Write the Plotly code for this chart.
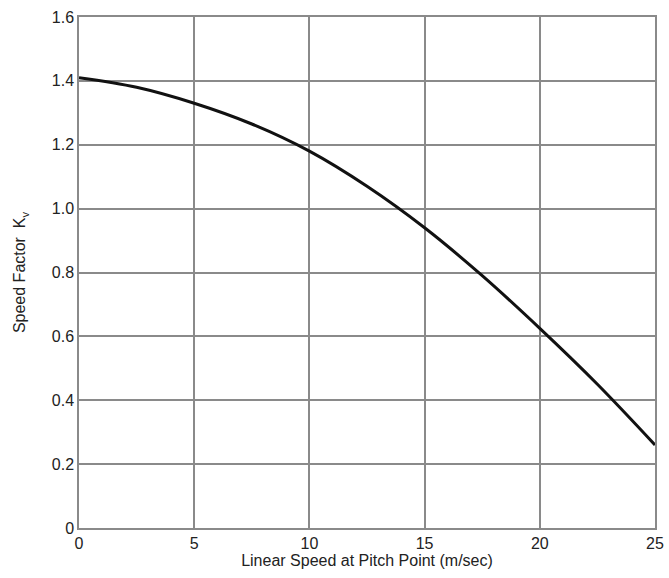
import plotly.graph_objects as go

speed = [0, 2.5, 5, 7.5, 10, 12.5, 15, 17.5, 20, 22.5, 25]
kv = [1.41, 1.38, 1.33, 1.265, 1.18, 1.07, 0.94, 0.79, 0.625, 0.45, 0.26]
x_ticks = [0, 5, 10, 15, 20, 25]
y_ticks = [0, 0.2, 0.4, 0.6, 0.8, 1.0, 1.2, 1.4, 1.6]
y_tick_text = ["0", "0.2", "0.4", "0.6", "0.8", "1.0", "1.2", "1.4", "1.6"]

fig = go.Figure()
fig.add_trace(go.Scatter(x=speed, y=kv, mode="lines",
                         line=dict(color="#111111", width=3, shape="spline", smoothing=1.0),
                         showlegend=False))

font = dict(family="Liberation Sans, Arial, sans-serif", size=16, color="#222222")
fig.update_layout(
    width=669, height=578,
    margin=dict(l=79, r=14, t=17, b=50),
    paper_bgcolor="white", plot_bgcolor="white",
    font=font,
    xaxis=dict(range=[0, 25], tickvals=x_ticks, showgrid=True, gridcolor="#8a8a8a",
               gridwidth=1.5, zeroline=False, showline=True, linecolor="#8a8a8a",
               linewidth=1.5, mirror=True, ticks="", ticklen=0,
               automargin=False,
               title=dict(text="Linear Speed at Pitch Point (m/sec)", standoff=2,
                          font=dict(size=16, color="#222222"))),
    yaxis=dict(range=[0, 1.6], tickvals=y_ticks, ticktext=y_tick_text, showgrid=True,
               gridcolor="#8a8a8a", gridwidth=1.5, zeroline=False, showline=True,
               linecolor="#8a8a8a", linewidth=1.5, mirror=True, ticks="", ticklen=0,
               automargin=False,
               title=dict(text="Speed Factor  K<sub>v</sub>", standoff=22,
                          font=dict(size=16, color="#222222"))),
)
fig.write_html("out.html", config={"displayModeBar": False},
               post_script="document.body.style.margin='0';document.body.style.overflow='hidden';")
